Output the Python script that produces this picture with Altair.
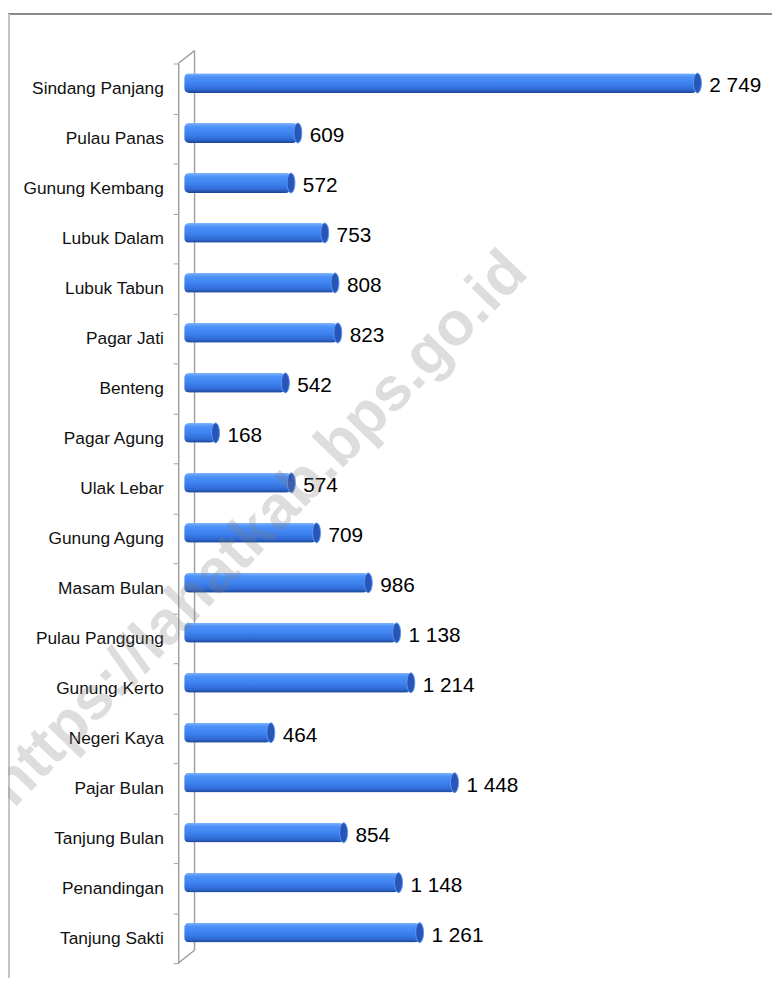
import altair as alt
import pandas as pd

categories = ["Sindang Panjang", "Pulau Panas", "Gunung Kembang", "Lubuk Dalam",
              "Lubuk Tabun", "Pagar Jati", "Benteng", "Pagar Agung", "Ulak Lebar",
              "Gunung Agung", "Masam Bulan", "Pulau Panggung", "Gunung Kerto",
              "Negeri Kaya", "Pajar Bulan", "Tanjung Bulan", "Penandingan",
              "Tanjung Sakti"]
values = [2749, 609, 572, 753, 808, 823, 542, 168, 574, 709, 986, 1138, 1214,
          464, 1448, 854, 1148, 1261]
watermark = "https://lahatkab.bps.go.id"

df = pd.DataFrame({
    "desa": categories,
    "nilai": values,
    "label": [f"{v:,}".replace(",", " ") for v in values],
})

FONT = "Liberation Sans"
W, H = 566, 909

xs = alt.Scale(domain=[0, 3000])
ys = alt.Scale(domain=categories, paddingInner=0, paddingOuter=0)

grad = alt.Gradient(
    gradient="linear",
    stops=[
        alt.GradientStop(color="#80b4ff", offset=0),
        alt.GradientStop(color="#4d92f8", offset=0.18),
        alt.GradientStop(color="#3c80ee", offset=0.55),
        alt.GradientStop(color="#2f6ad4", offset=0.82),
        alt.GradientStop(color="#1c4594", offset=1),
    ],
    x1=0, x2=0, y1=0, y2=1,
)

base = alt.Chart(df)

bars = base.mark_bar(fill=grad, size=20, yOffset=-5.5, cornerRadius=5).encode(
    x=alt.X("nilai:Q", scale=xs, axis=None),
    y=alt.Y("desa:N", sort=categories, scale=ys, title=None,
            axis=alt.Axis(offset=6, domainColor="#a0a0a0", domainWidth=1.5,
                          tickColor="#a0a0a0", tickSize=5, tickBand="extent",
                          labelFont=FONT, labelFontSize=17.5, labelColor="#111111",
                          labelPadding=10, labelLimit=300, labelBaseline="middle")),
)

ellipse = "M0,-1 A0.4,1 0 1,1 0,1 A0.4,1 0 1,1 0,-1 Z"
caps = base.mark_point(shape=ellipse, size=400, filled=True, fill="#2856b8",
                       stroke="#5c97f2", strokeWidth=1, opacity=1,
                       yOffset=-5.5).encode(
    x=alt.X("nilai:Q", scale=xs),
    y=alt.Y("desa:N", sort=categories, scale=ys),
)

labels = base.mark_text(align="left", baseline="middle", dx=12, dy=-2,
                        font=FONT, fontSize=21, color="#000000").encode(
    x=alt.X("nilai:Q", scale=xs),
    y=alt.Y("desa:N", sort=categories, scale=ys),
    text="label:N",
)

def rule(x1, x2, y1, y2, color, width=1.5):
    return alt.Chart(df.head(1)).mark_rule(color=color, strokeWidth=width).encode(
        x=alt.value(x1), x2=alt.value(x2), y=alt.value(y1), y2=alt.value(y2))

border_top = rule(-178, 600, -50, -50, "#8a8a8a", 2)
border_left = rule(-177, -177, -50, 930, "#c4c4c4", 2)
back_line = rule(10.5, 10.5, -13, 896, "#a0a0a0")
diag_top = rule(-6, 10.5, 0, -13, "#a0a0a0")
diag_bot = rule(-6, 10.5, H, 896, "#a0a0a0")

wm = alt.Chart(df.head(1)).mark_text(
    text=watermark, font=FONT, fontWeight="bold", fontSize=62, angle=314,
    align="center", baseline="middle", color="#808080", opacity=0.26,
).encode(x=alt.value(75), y=alt.value(470))

chart = alt.layer(
    border_top, border_left, back_line, diag_top, diag_bot, bars, caps, labels, wm
).properties(
    width=W, height=H,
    background="white",
    autosize=alt.AutoSizeParams(type="none"),
    padding={"left": 178, "top": 51, "right": 28, "bottom": 10},
).configure_view(strokeWidth=0, stroke=None)

chart.save("out.html", embed_options={"renderer": "svg", "actions": False})
